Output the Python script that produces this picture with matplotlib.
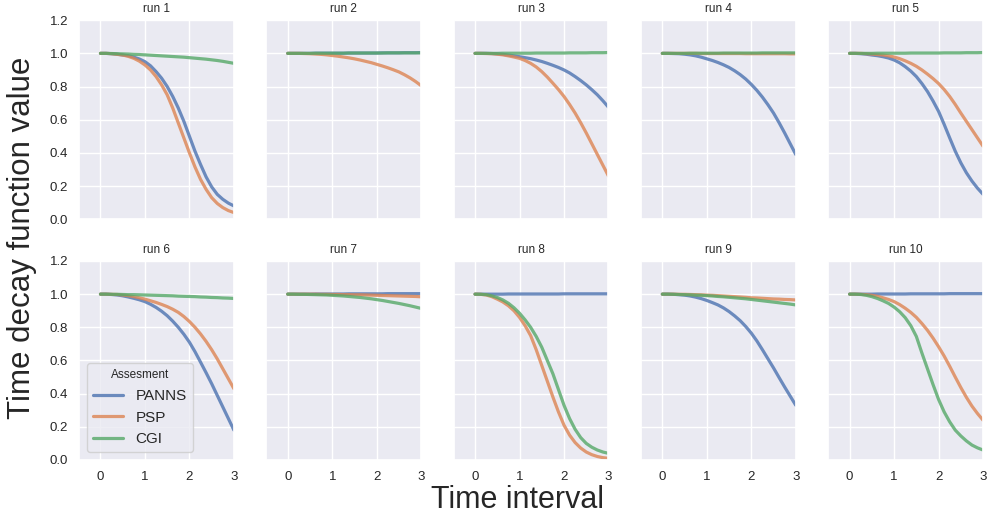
import matplotlib
matplotlib.use("Agg")
import matplotlib.pyplot as plt
import numpy as np
import seaborn as sns

# sampled time points (every 0.125)
time = [0.0, 0.125, 0.25, 0.375, 0.5, 0.625, 0.75, 0.875, 1.0, 1.125, 1.25, 1.375, 1.5,
        1.625, 1.75, 1.875, 2.0, 2.125, 2.25, 2.375, 2.5, 2.625, 2.75, 2.875, 3.0]
runs = ["run 1", "run 2", "run 3", "run 4", "run 5", "run 6", "run 7", "run 8", "run 9", "run 10"]
labels = ["PANNS", "PSP", "CGI"]

panns = [
    [1.0, 1.0, 0.998, 0.995, 0.99, 0.986, 0.977, 0.966, 0.95, 0.925, 0.89, 0.85, 0.80,
     0.74, 0.67, 0.59, 0.50, 0.41, 0.33, 0.255, 0.195, 0.15, 0.12, 0.097, 0.08],
    [1.0, 1.0, 1.0, 1.0, 1.0, 1.001, 1.001, 1.001, 1.001, 1.001, 1.001, 1.002, 1.002,
     1.002, 1.002, 1.002, 1.002, 1.003, 1.003, 1.003, 1.003, 1.004, 1.004, 1.004, 1.005],
    [1.0, 1.0, 1.0, 0.999, 0.997, 0.994, 0.99, 0.985, 0.98, 0.974, 0.968, 0.96, 0.951,
     0.94, 0.928, 0.915, 0.90, 0.882, 0.86, 0.836, 0.81, 0.781, 0.75, 0.714, 0.675],
    [1.0, 1.0, 0.999, 0.998, 0.995, 0.991, 0.985, 0.977, 0.967, 0.957, 0.945, 0.931, 0.915,
     0.895, 0.872, 0.845, 0.813, 0.777, 0.736, 0.69, 0.64, 0.582, 0.52, 0.455, 0.39],
    [1.0, 1.0, 0.998, 0.995, 0.99, 0.986, 0.98, 0.972, 0.96, 0.943, 0.92, 0.893, 0.86,
     0.818, 0.77, 0.713, 0.65, 0.572, 0.49, 0.41, 0.34, 0.28, 0.23, 0.187, 0.15],
    [1.0, 1.0, 0.998, 0.995, 0.99, 0.983, 0.975, 0.966, 0.955, 0.939, 0.92, 0.897, 0.87,
     0.837, 0.80, 0.758, 0.71, 0.653, 0.59, 0.526, 0.46, 0.39, 0.32, 0.25, 0.18],
    [1.0, 1.0, 1.0, 1.0, 1.0, 1.001, 1.001, 1.001, 1.001, 1.001, 1.001, 1.002, 1.002,
     1.002, 1.002, 1.002, 1.002, 1.002, 1.003, 1.003, 1.003, 1.003, 1.003, 1.003, 1.003],
    [1.0, 1.0, 1.0, 1.0, 1.0, 1.0, 1.001, 1.001, 1.001, 1.001, 1.001, 1.001, 1.001,
     1.001, 1.001, 1.001, 1.002, 1.002, 1.002, 1.002, 1.002, 1.002, 1.002, 1.002, 1.002],
    [1.0, 1.0, 0.999, 0.997, 0.994, 0.989, 0.982, 0.973, 0.962, 0.949, 0.935, 0.917, 0.895,
     0.869, 0.84, 0.805, 0.765, 0.718, 0.665, 0.61, 0.555, 0.497, 0.44, 0.385, 0.33],
    [1.0, 1.0, 1.0, 1.0, 1.0, 1.001, 1.001, 1.001, 1.001, 1.001, 1.001, 1.002, 1.002,
     1.002, 1.002, 1.002, 1.002, 1.002, 1.003, 1.003, 1.003, 1.003, 1.003, 1.003, 1.003],
]
psp = [
    [1.0, 1.0, 0.998, 0.994, 0.99, 0.982, 0.97, 0.953, 0.93, 0.90, 0.86, 0.81, 0.75,
     0.67, 0.58, 0.49, 0.40, 0.315, 0.24, 0.18, 0.13, 0.095, 0.07, 0.052, 0.04],
    [1.0, 1.0, 1.0, 0.999, 0.998, 0.996, 0.994, 0.991, 0.987, 0.983, 0.978, 0.973, 0.967,
     0.96, 0.952, 0.944, 0.934, 0.924, 0.913, 0.901, 0.888, 0.871, 0.852, 0.83, 0.805],
    [1.0, 1.0, 0.999, 0.998, 0.995, 0.991, 0.985, 0.978, 0.97, 0.957, 0.94, 0.918, 0.89,
     0.857, 0.82, 0.782, 0.74, 0.692, 0.64, 0.582, 0.52, 0.455, 0.39, 0.325, 0.26],
    [1.0, 1.0, 1.0, 1.0, 1.0, 1.0, 1.0, 0.999, 0.999, 0.999, 0.999, 0.999, 0.999,
     0.999, 0.999, 0.998, 0.998, 0.998, 0.998, 0.998, 0.998, 0.998, 0.998, 0.997, 0.997],
    [1.0, 1.0, 1.0, 0.998, 0.996, 0.993, 0.99, 0.985, 0.978, 0.968, 0.955, 0.94, 0.922,
     0.90, 0.875, 0.848, 0.818, 0.782, 0.74, 0.692, 0.64, 0.59, 0.54, 0.49, 0.44],
    [1.0, 1.0, 0.999, 0.998, 0.995, 0.991, 0.985, 0.978, 0.97, 0.96, 0.95, 0.938, 0.925,
     0.909, 0.89, 0.865, 0.835, 0.80, 0.76, 0.715, 0.665, 0.61, 0.55, 0.49, 0.43],
    [1.0, 1.0, 1.0, 1.0, 1.0, 1.0, 0.999, 0.999, 0.998, 0.998, 0.997, 0.997, 0.996,
     0.996, 0.995, 0.994, 0.993, 0.992, 0.991, 0.99, 0.989, 0.988, 0.987, 0.986, 0.984],
    [1.0, 0.999, 0.995, 0.985, 0.97, 0.953, 0.93, 0.90, 0.86, 0.81, 0.75, 0.665, 0.57,
     0.475, 0.38, 0.29, 0.21, 0.15, 0.105, 0.072, 0.048, 0.032, 0.021, 0.014, 0.01],
    [1.0, 1.0, 1.0, 0.999, 0.999, 0.998, 0.997, 0.996, 0.994, 0.993, 0.991, 0.989, 0.987,
     0.985, 0.983, 0.981, 0.978, 0.977, 0.975, 0.973, 0.971, 0.97, 0.968, 0.967, 0.965],
    [1.0, 1.0, 0.999, 0.997, 0.993, 0.987, 0.978, 0.968, 0.955, 0.937, 0.915, 0.89, 0.86,
     0.823, 0.782, 0.735, 0.683, 0.627, 0.565, 0.50, 0.437, 0.378, 0.325, 0.28, 0.24],
]
cgi = [
    [1.0, 1.0, 0.999, 0.998, 0.997, 0.996, 0.994, 0.993, 0.991, 0.989, 0.987, 0.985, 0.983,
     0.981, 0.979, 0.977, 0.974, 0.971, 0.968, 0.965, 0.961, 0.957, 0.952, 0.946, 0.94],
    [1.0, 1.0, 1.0, 1.0, 1.0, 1.001, 1.001, 1.001, 1.001, 1.001, 1.001, 1.002, 1.002,
     1.002, 1.002, 1.002, 1.002, 1.002, 1.003, 1.003, 1.003, 1.003, 1.003, 1.003, 1.003],
    [1.0, 1.0, 1.0, 1.0, 1.0, 1.001, 1.001, 1.001, 1.001, 1.001, 1.001, 1.002, 1.002,
     1.002, 1.002, 1.002, 1.002, 1.003, 1.003, 1.003, 1.003, 1.004, 1.004, 1.004, 1.005],
    [1.0, 1.0, 1.0, 1.0, 1.0, 1.001, 1.001, 1.001, 1.001, 1.001, 1.001, 1.002, 1.002,
     1.002, 1.002, 1.002, 1.002, 1.002, 1.003, 1.003, 1.003, 1.003, 1.003, 1.003, 1.003],
    [1.0, 1.0, 1.0, 1.0, 1.0, 1.001, 1.001, 1.001, 1.001, 1.001, 1.001, 1.002, 1.002,
     1.002, 1.002, 1.002, 1.002, 1.003, 1.003, 1.003, 1.003, 1.004, 1.004, 1.004, 1.005],
    [1.0, 1.0, 0.999, 0.999, 0.998, 0.997, 0.997, 0.996, 0.995, 0.994, 0.993, 0.992, 0.991,
     0.99, 0.988, 0.987, 0.986, 0.985, 0.983, 0.982, 0.98, 0.979, 0.977, 0.976, 0.974],
    [1.0, 1.0, 0.999, 0.999, 0.998, 0.997, 0.996, 0.995, 0.993, 0.991, 0.989, 0.986, 0.983,
     0.98, 0.976, 0.972, 0.967, 0.962, 0.956, 0.95, 0.944, 0.937, 0.93, 0.922, 0.914],
    [1.0, 0.999, 0.997, 0.99, 0.98, 0.965, 0.945, 0.918, 0.885, 0.845, 0.80, 0.745, 0.68,
     0.60, 0.52, 0.425, 0.33, 0.25, 0.185, 0.135, 0.10, 0.077, 0.06, 0.048, 0.04],
    [1.0, 1.0, 0.999, 0.998, 0.997, 0.996, 0.994, 0.993, 0.991, 0.989, 0.986, 0.984, 0.981,
     0.978, 0.975, 0.972, 0.968, 0.964, 0.96, 0.956, 0.952, 0.948, 0.944, 0.94, 0.935],
    [1.0, 1.0, 0.998, 0.993, 0.985, 0.974, 0.96, 0.944, 0.922, 0.894, 0.858, 0.81, 0.745,
     0.645, 0.55, 0.455, 0.365, 0.29, 0.23, 0.18, 0.145, 0.115, 0.09, 0.073, 0.06],
]

sns.set_theme(style="darkgrid")
plt.rcParams["font.family"] = ["Liberation Sans", "DejaVu Sans"]
colors = sns.color_palette("deep")[:3]

fig, axes = plt.subplots(2, 5, figsize=(9.89, 5.18), dpi=100, sharex=True, sharey=True)
fig.subplots_adjust(left=0.08, right=0.994, top=0.961, bottom=0.112, wspace=0.21, hspace=0.21)

for i, ax in enumerate(axes.flat):
    for series, color, label in zip([panns, psp, cgi], colors, labels):
        ax.plot(time, series[i], color=color, lw=2.3, alpha=0.8, label=label)
    ax.set_title(runs[i], fontsize=8.5)
    ax.set_xlim(-0.48, 3)
    ax.set_ylim(0, 1.2)
    ax.set_xticks([0, 1, 2, 3])
    ax.set_yticks(np.arange(0, 1.21, 0.2))
    ax.tick_params(labelsize=9.5, pad=2)

axes[1, 0].legend(title="Assesment", loc="lower left", fontsize=11, title_fontsize=8.5)

fig.text(0.022, 0.54, "Time decay function value", rotation=90, va="center", ha="center", fontsize=22.5)
fig.text(0.523, 0.035, "Time interval", va="center", ha="center", fontsize=22)

plt.savefig("out.png", dpi=100)
